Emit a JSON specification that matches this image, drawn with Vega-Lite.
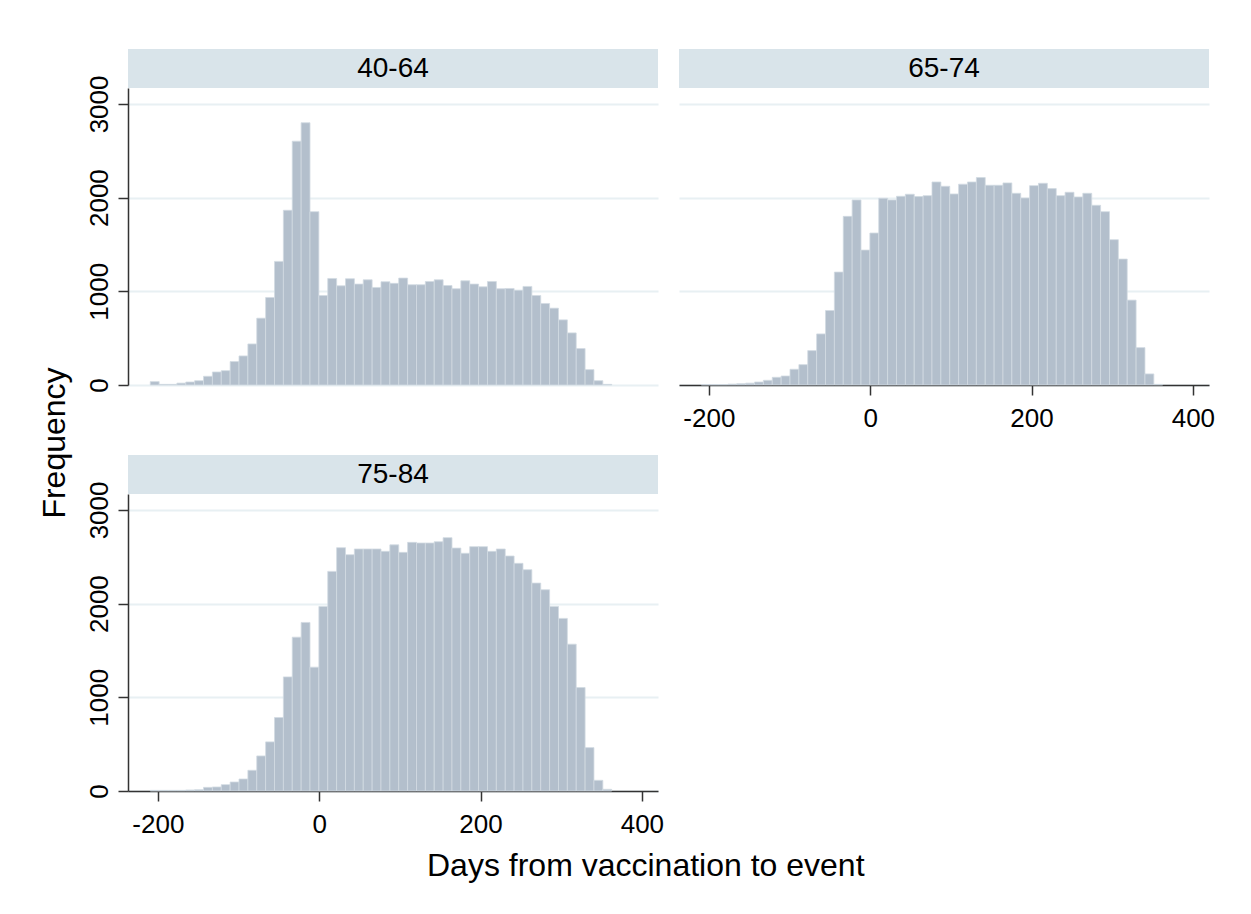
{
  "$schema": "https://vega.github.io/schema/vega-lite/v6.json",
  "background": "white",
  "padding": {"left": 38, "top": 49, "right": 5, "bottom": 5},
  "config": {
    "font": "Liberation Sans",
    "view": {"stroke": null},
    "axis": {
      "labelFont": "Liberation Sans",
      "labelFontSize": 26,
      "labelColor": "black",
      "tickColor": "#333333",
      "domainColor": "#333333",
      "tickWidth": 1.5,
      "domainWidth": 1.5,
      "tickSize": 10,
      "gridColor": "#e8f0f3",
      "gridWidth": 2,
      "title": null
    }
  },
  "title": {
    "text": "Days from vaccination to event",
    "orient": "bottom",
    "anchor": "middle",
    "frame": "bounds",
    "fontSize": 32,
    "fontWeight": "normal",
    "color": "black",
    "font": "Liberation Sans",
    "offset": 14,
    "dx": 19
  },
  "datasets": {
    "strips": [
      {"group": "40-64"},
      {"group": "65-74"},
      {"group": "75-84"}
    ],
    "hist": [
      {"group": "40-64", "start": -210, "end": -199, "count": 36},
      {"group": "40-64", "start": -199, "end": -188, "count": 7},
      {"group": "40-64", "start": -188, "end": -177, "count": 7},
      {"group": "40-64", "start": -177, "end": -166, "count": 20},
      {"group": "40-64", "start": -166, "end": -155, "count": 32},
      {"group": "40-64", "start": -155, "end": -144, "count": 46},
      {"group": "40-64", "start": -144, "end": -133, "count": 93},
      {"group": "40-64", "start": -133, "end": -122, "count": 139},
      {"group": "40-64", "start": -122, "end": -111, "count": 153},
      {"group": "40-64", "start": -111, "end": -100, "count": 250},
      {"group": "40-64", "start": -100, "end": -89, "count": 310},
      {"group": "40-64", "start": -89, "end": -78, "count": 438},
      {"group": "40-64", "start": -78, "end": -67, "count": 713},
      {"group": "40-64", "start": -67, "end": -56, "count": 934},
      {"group": "40-64", "start": -56, "end": -45, "count": 1319},
      {"group": "40-64", "start": -45, "end": -34, "count": 1865},
      {"group": "40-64", "start": -34, "end": -23, "count": 2602},
      {"group": "40-64", "start": -23, "end": -12, "count": 2799},
      {"group": "40-64", "start": -12, "end": -1, "count": 1850},
      {"group": "40-64", "start": -1, "end": 10, "count": 955},
      {"group": "40-64", "start": 10, "end": 21, "count": 1137},
      {"group": "40-64", "start": 21, "end": 32, "count": 1059},
      {"group": "40-64", "start": 32, "end": 43, "count": 1134},
      {"group": "40-64", "start": 43, "end": 54, "count": 1077},
      {"group": "40-64", "start": 54, "end": 65, "count": 1123},
      {"group": "40-64", "start": 65, "end": 76, "count": 1041},
      {"group": "40-64", "start": 76, "end": 87, "count": 1102},
      {"group": "40-64", "start": 87, "end": 98, "count": 1085},
      {"group": "40-64", "start": 98, "end": 109, "count": 1141},
      {"group": "40-64", "start": 109, "end": 120, "count": 1070},
      {"group": "40-64", "start": 120, "end": 131, "count": 1070},
      {"group": "40-64", "start": 131, "end": 142, "count": 1105},
      {"group": "40-64", "start": 142, "end": 153, "count": 1123},
      {"group": "40-64", "start": 153, "end": 164, "count": 1062},
      {"group": "40-64", "start": 164, "end": 175, "count": 1027},
      {"group": "40-64", "start": 175, "end": 186, "count": 1112},
      {"group": "40-64", "start": 186, "end": 197, "count": 1077},
      {"group": "40-64", "start": 197, "end": 208, "count": 1048},
      {"group": "40-64", "start": 208, "end": 219, "count": 1105},
      {"group": "40-64", "start": 219, "end": 230, "count": 1027},
      {"group": "40-64", "start": 230, "end": 241, "count": 1030},
      {"group": "40-64", "start": 241, "end": 252, "count": 1012},
      {"group": "40-64", "start": 252, "end": 263, "count": 1052},
      {"group": "40-64", "start": 263, "end": 274, "count": 955},
      {"group": "40-64", "start": 274, "end": 285, "count": 870},
      {"group": "40-64", "start": 285, "end": 296, "count": 820},
      {"group": "40-64", "start": 296, "end": 307, "count": 695},
      {"group": "40-64", "start": 307, "end": 318, "count": 556},
      {"group": "40-64", "start": 318, "end": 329, "count": 389},
      {"group": "40-64", "start": 329, "end": 340, "count": 164},
      {"group": "40-64", "start": 340, "end": 351, "count": 46},
      {"group": "40-64", "start": 351, "end": 362, "count": 7},
      {"group": "65-74", "start": -210, "end": -199, "count": 5},
      {"group": "65-74", "start": -199, "end": -188, "count": 5},
      {"group": "65-74", "start": -188, "end": -177, "count": 5},
      {"group": "65-74", "start": -177, "end": -166, "count": 10},
      {"group": "65-74", "start": -166, "end": -155, "count": 14},
      {"group": "65-74", "start": -155, "end": -144, "count": 20},
      {"group": "65-74", "start": -144, "end": -133, "count": 32},
      {"group": "65-74", "start": -133, "end": -122, "count": 50},
      {"group": "65-74", "start": -122, "end": -111, "count": 82},
      {"group": "65-74", "start": -111, "end": -100, "count": 96},
      {"group": "65-74", "start": -100, "end": -89, "count": 168},
      {"group": "65-74", "start": -89, "end": -78, "count": 217},
      {"group": "65-74", "start": -78, "end": -67, "count": 367},
      {"group": "65-74", "start": -67, "end": -56, "count": 545},
      {"group": "65-74", "start": -56, "end": -45, "count": 795},
      {"group": "65-74", "start": -45, "end": -34, "count": 1205},
      {"group": "65-74", "start": -34, "end": -23, "count": 1800},
      {"group": "65-74", "start": -23, "end": -12, "count": 1975},
      {"group": "65-74", "start": -12, "end": -1, "count": 1440},
      {"group": "65-74", "start": -1, "end": 10, "count": 1622},
      {"group": "65-74", "start": 10, "end": 21, "count": 1993},
      {"group": "65-74", "start": 21, "end": 32, "count": 1975},
      {"group": "65-74", "start": 32, "end": 43, "count": 2014},
      {"group": "65-74", "start": 43, "end": 54, "count": 2036},
      {"group": "65-74", "start": 54, "end": 65, "count": 2011},
      {"group": "65-74", "start": 65, "end": 76, "count": 2021},
      {"group": "65-74", "start": 76, "end": 87, "count": 2167},
      {"group": "65-74", "start": 87, "end": 98, "count": 2121},
      {"group": "65-74", "start": 98, "end": 109, "count": 2039},
      {"group": "65-74", "start": 109, "end": 120, "count": 2143},
      {"group": "65-74", "start": 120, "end": 131, "count": 2167},
      {"group": "65-74", "start": 131, "end": 142, "count": 2214},
      {"group": "65-74", "start": 142, "end": 153, "count": 2132},
      {"group": "65-74", "start": 153, "end": 164, "count": 2132},
      {"group": "65-74", "start": 164, "end": 175, "count": 2157},
      {"group": "65-74", "start": 175, "end": 186, "count": 2046},
      {"group": "65-74", "start": 186, "end": 197, "count": 1996},
      {"group": "65-74", "start": 197, "end": 208, "count": 2128},
      {"group": "65-74", "start": 208, "end": 219, "count": 2153},
      {"group": "65-74", "start": 219, "end": 230, "count": 2096},
      {"group": "65-74", "start": 230, "end": 241, "count": 2021},
      {"group": "65-74", "start": 241, "end": 252, "count": 2057},
      {"group": "65-74", "start": 252, "end": 263, "count": 2007},
      {"group": "65-74", "start": 263, "end": 274, "count": 2046},
      {"group": "65-74", "start": 274, "end": 285, "count": 1918},
      {"group": "65-74", "start": 285, "end": 296, "count": 1850},
      {"group": "65-74", "start": 296, "end": 307, "count": 1551},
      {"group": "65-74", "start": 307, "end": 318, "count": 1344},
      {"group": "65-74", "start": 318, "end": 329, "count": 906},
      {"group": "65-74", "start": 329, "end": 340, "count": 399},
      {"group": "65-74", "start": 340, "end": 351, "count": 118},
      {"group": "65-74", "start": 351, "end": 362, "count": 7},
      {"group": "75-84", "start": -210, "end": -199, "count": 7},
      {"group": "75-84", "start": -199, "end": -188, "count": 7},
      {"group": "75-84", "start": -188, "end": -177, "count": 7},
      {"group": "75-84", "start": -177, "end": -166, "count": 7},
      {"group": "75-84", "start": -166, "end": -155, "count": 11},
      {"group": "75-84", "start": -155, "end": -144, "count": 14},
      {"group": "75-84", "start": -144, "end": -133, "count": 39},
      {"group": "75-84", "start": -133, "end": -122, "count": 43},
      {"group": "75-84", "start": -122, "end": -111, "count": 68},
      {"group": "75-84", "start": -111, "end": -100, "count": 96},
      {"group": "75-84", "start": -100, "end": -89, "count": 128},
      {"group": "75-84", "start": -89, "end": -78, "count": 221},
      {"group": "75-84", "start": -78, "end": -67, "count": 374},
      {"group": "75-84", "start": -67, "end": -56, "count": 524},
      {"group": "75-84", "start": -56, "end": -45, "count": 784},
      {"group": "75-84", "start": -45, "end": -34, "count": 1218},
      {"group": "75-84", "start": -34, "end": -23, "count": 1642},
      {"group": "75-84", "start": -23, "end": -12, "count": 1799},
      {"group": "75-84", "start": -12, "end": -1, "count": 1322},
      {"group": "75-84", "start": -1, "end": 10, "count": 1970},
      {"group": "75-84", "start": 10, "end": 21, "count": 2344},
      {"group": "75-84", "start": 21, "end": 32, "count": 2597},
      {"group": "75-84", "start": 32, "end": 43, "count": 2522},
      {"group": "75-84", "start": 43, "end": 54, "count": 2583},
      {"group": "75-84", "start": 54, "end": 65, "count": 2583},
      {"group": "75-84", "start": 65, "end": 76, "count": 2583},
      {"group": "75-84", "start": 76, "end": 87, "count": 2558},
      {"group": "75-84", "start": 87, "end": 98, "count": 2627},
      {"group": "75-84", "start": 98, "end": 109, "count": 2547},
      {"group": "75-84", "start": 109, "end": 120, "count": 2654},
      {"group": "75-84", "start": 120, "end": 131, "count": 2647},
      {"group": "75-84", "start": 131, "end": 142, "count": 2647},
      {"group": "75-84", "start": 142, "end": 153, "count": 2661},
      {"group": "75-84", "start": 153, "end": 164, "count": 2704},
      {"group": "75-84", "start": 164, "end": 175, "count": 2593},
      {"group": "75-84", "start": 175, "end": 186, "count": 2537},
      {"group": "75-84", "start": 186, "end": 197, "count": 2608},
      {"group": "75-84", "start": 197, "end": 208, "count": 2608},
      {"group": "75-84", "start": 208, "end": 219, "count": 2558},
      {"group": "75-84", "start": 219, "end": 230, "count": 2583},
      {"group": "75-84", "start": 230, "end": 241, "count": 2508},
      {"group": "75-84", "start": 241, "end": 252, "count": 2430},
      {"group": "75-84", "start": 252, "end": 263, "count": 2362},
      {"group": "75-84", "start": 263, "end": 274, "count": 2219},
      {"group": "75-84", "start": 274, "end": 285, "count": 2148},
      {"group": "75-84", "start": 285, "end": 296, "count": 1970},
      {"group": "75-84", "start": 296, "end": 307, "count": 1842},
      {"group": "75-84", "start": 307, "end": 318, "count": 1567},
      {"group": "75-84", "start": 318, "end": 329, "count": 1104},
      {"group": "75-84", "start": 329, "end": 340, "count": 463},
      {"group": "75-84", "start": 340, "end": 351, "count": 114},
      {"group": "75-84", "start": 351, "end": 362, "count": 18}
    ]
  },
  "vconcat": [
    {
      "title": {
        "text": "Frequency",
        "orient": "left",
        "anchor": "middle",
        "frame": "bounds",
        "fontSize": 32,
        "fontWeight": "normal",
        "color": "black",
        "font": "Liberation Sans",
        "offset": 14
      },
      "spacing": 24,
      "vconcat": [
        {
          "spacing": 21,
          "hconcat": [
            {
              "spacing": 0,
              "bounds": "flush",
              "vconcat": [
                {
                  "width": 530,
                  "height": 39,
                  "view": {"fill": "#d9e4ea", "stroke": null},
                  "data": {"name": "strips"},
                  "transform": [{"filter": "datum.group == '40-64'"}],
                  "mark": {"type": "text", "fontSize": 28, "color": "black", "font": "Liberation Sans"},
                  "encoding": {"text": {"field": "group"}}
                },
                {
                  "width": 530,
                  "height": 297,
                  "data": {"name": "hist"},
                  "transform": [{"filter": "datum.group == '40-64'"}],
                  "mark": {"type": "bar", "fill": "#b3bfcc", "stroke": "#d2dae2", "strokeWidth": 0.8, "binSpacing": 0},
                  "encoding": {
                    "x": {"field": "start", "type": "quantitative", "bin": "binned", "scale": {"domain": [-237, 420], "nice": false, "zero": false}, "axis": null},
                    "x2": {"field": "end"},
                    "y": {"field": "count", "type": "quantitative", "scale": {"domain": [0, 3170], "nice": false},
                      "axis": {"values": [0, 1000, 2000, 3000], "labelAngle": 270, "labelAlign": "center", "labelBaseline": "bottom", "labelPadding": 6, "grid": true, "labelExpr": "'' + datum.value"}}
                  }
                }
              ]
            },
            {
              "spacing": 0,
              "bounds": "flush",
              "vconcat": [
                {
                  "width": 530,
                  "height": 39,
                  "view": {"fill": "#d9e4ea", "stroke": null},
                  "data": {"name": "strips"},
                  "transform": [{"filter": "datum.group == '65-74'"}],
                  "mark": {"type": "text", "fontSize": 28, "color": "black", "font": "Liberation Sans"},
                  "encoding": {"text": {"field": "group"}}
                },
                {
                  "width": 530,
                  "height": 297,
                  "data": {"name": "hist"},
                  "transform": [{"filter": "datum.group == '65-74'"}],
                  "mark": {"type": "bar", "fill": "#b3bfcc", "stroke": "#d2dae2", "strokeWidth": 0.8, "binSpacing": 0},
                  "encoding": {
                    "x": {"field": "start", "type": "quantitative", "bin": "binned", "scale": {"domain": [-237, 420], "nice": false, "zero": false},
                      "axis": {"values": [-200, 0, 200, 400], "grid": false, "labelPadding": 10, "labelExpr": "'' + datum.value"}},
                    "x2": {"field": "end"},
                    "y": {"field": "count", "type": "quantitative", "scale": {"domain": [0, 3170], "nice": false},
                      "axis": {"values": [0, 1000, 2000, 3000], "grid": true, "labels": false, "ticks": false, "domain": false}}
                  }
                }
              ]
            }
          ]
        },
        {
          "hconcat": [
            {
              "spacing": 0,
              "bounds": "flush",
              "vconcat": [
                {
                  "width": 530,
                  "height": 39,
                  "view": {"fill": "#d9e4ea", "stroke": null},
                  "data": {"name": "strips"},
                  "transform": [{"filter": "datum.group == '75-84'"}],
                  "mark": {"type": "text", "fontSize": 28, "color": "black", "font": "Liberation Sans"},
                  "encoding": {"text": {"field": "group"}}
                },
                {
                  "width": 530,
                  "height": 297,
                  "data": {"name": "hist"},
                  "transform": [{"filter": "datum.group == '75-84'"}],
                  "mark": {"type": "bar", "fill": "#b3bfcc", "stroke": "#d2dae2", "strokeWidth": 0.8, "binSpacing": 0},
                  "encoding": {
                    "x": {"field": "start", "type": "quantitative", "bin": "binned", "scale": {"domain": [-237, 420], "nice": false, "zero": false},
                      "axis": {"values": [-200, 0, 200, 400], "grid": false, "labelPadding": 10, "labelExpr": "'' + datum.value"}},
                    "x2": {"field": "end"},
                    "y": {"field": "count", "type": "quantitative", "scale": {"domain": [0, 3170], "nice": false},
                      "axis": {"values": [0, 1000, 2000, 3000], "labelAngle": 270, "labelAlign": "center", "labelBaseline": "bottom", "labelPadding": 6, "grid": true, "labelExpr": "'' + datum.value"}}
                  }
                }
              ]
            }
          ]
        }
      ]
    }
  ]
}
